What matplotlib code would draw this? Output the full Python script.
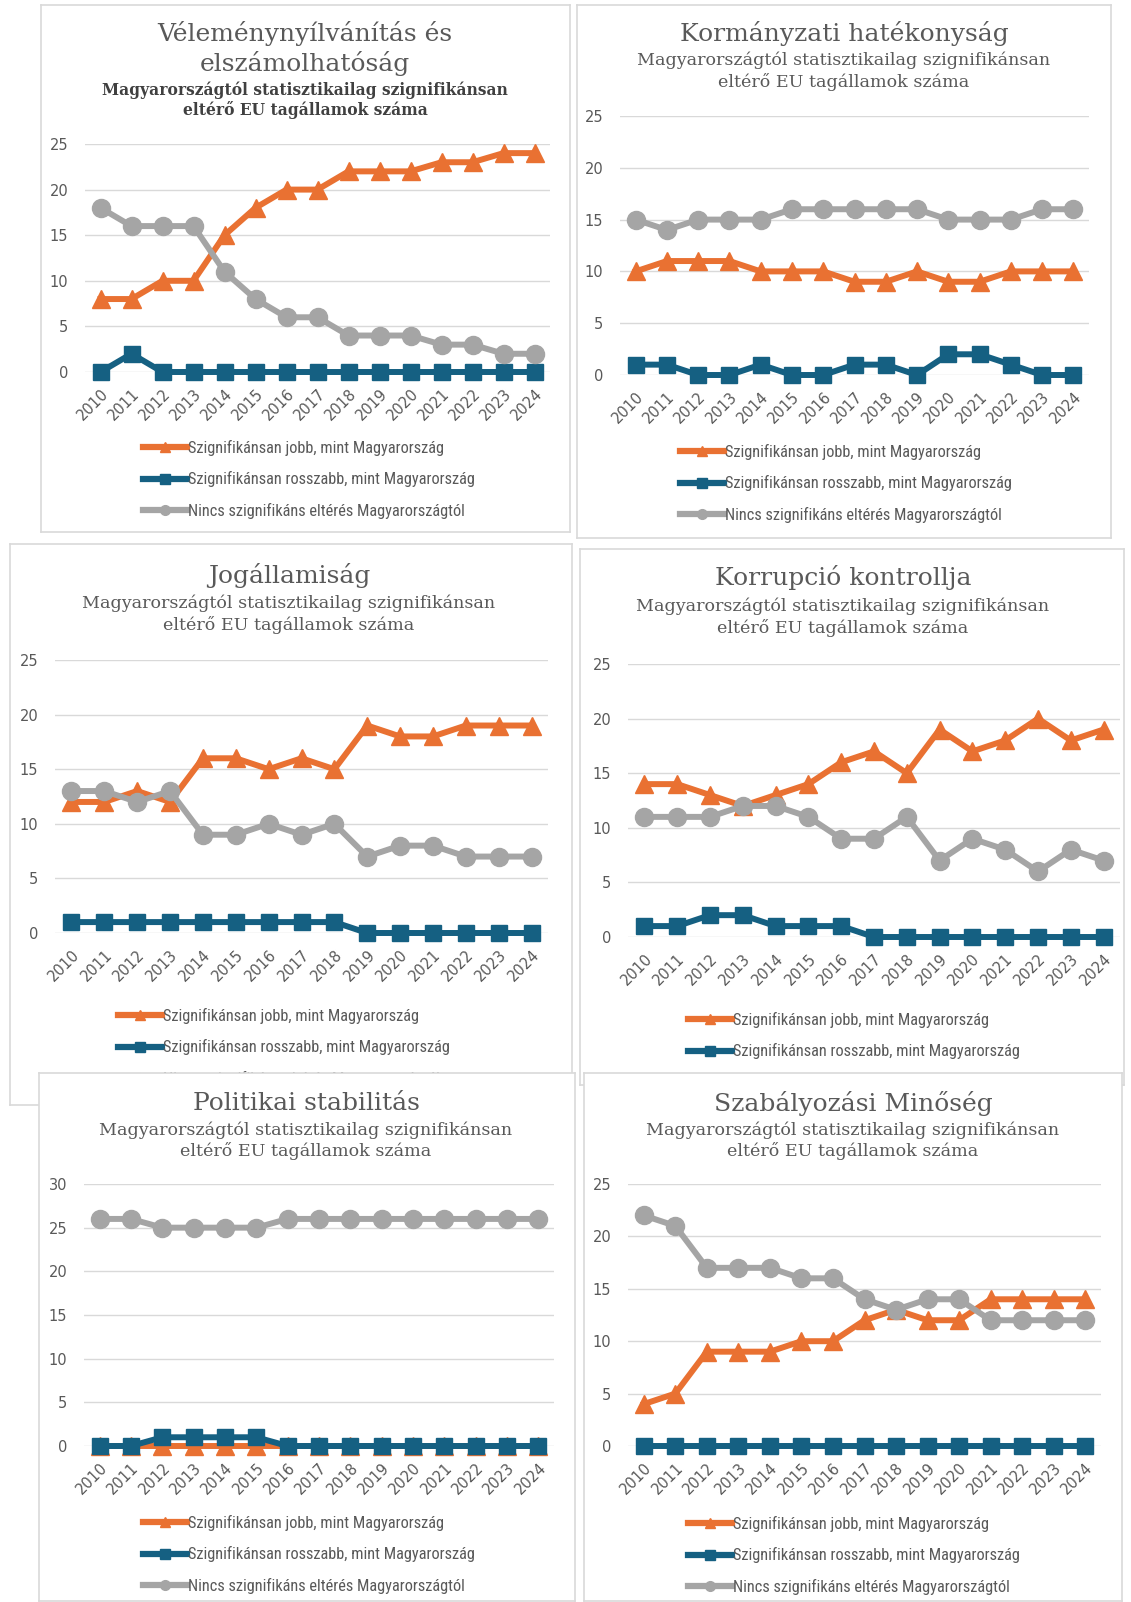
import matplotlib.pyplot as plt
from matplotlib.lines import Line2D

years = list(range(2010, 2025))

# Véleménynyílvánítás és elszámolhatóság
ve_jobb = [8, 8, 10, 10, 15, 18, 20, 20, 22, 22, 22, 23, 23, 24, 24]
ve_rossz = [0, 2, 0, 0, 0, 0, 0, 0, 0, 0, 0, 0, 0, 0, 0]
ve_nincs = [18, 16, 16, 16, 11, 8, 6, 6, 4, 4, 4, 3, 3, 2, 2]

# Kormányzati hatékonyság
ko_jobb = [10, 11, 11, 11, 10, 10, 10, 9, 9, 10, 9, 9, 10, 10, 10]
ko_rossz = [1, 1, 0, 0, 1, 0, 0, 1, 1, 0, 2, 2, 1, 0, 0]
ko_nincs = [15, 14, 15, 15, 15, 16, 16, 16, 16, 16, 15, 15, 15, 16, 16]

# Jogállamiság
jo_jobb = [12, 12, 13, 12, 16, 16, 15, 16, 15, 19, 18, 18, 19, 19, 19]
jo_rossz = [1, 1, 1, 1, 1, 1, 1, 1, 1, 0, 0, 0, 0, 0, 0]
jo_nincs = [13, 13, 12, 13, 9, 9, 10, 9, 10, 7, 8, 8, 7, 7, 7]

# Korrupció kontrollja
kk_jobb = [14, 14, 13, 12, 13, 14, 16, 17, 15, 19, 17, 18, 20, 18, 19]
kk_rossz = [1, 1, 2, 2, 1, 1, 1, 0, 0, 0, 0, 0, 0, 0, 0]
kk_nincs = [11, 11, 11, 12, 12, 11, 9, 9, 11, 7, 9, 8, 6, 8, 7]

# Politikai stabilitás
po_jobb = [0, 0, 0, 0, 0, 0, 0, 0, 0, 0, 0, 0, 0, 0, 0]
po_rossz = [0, 0, 1, 1, 1, 1, 0, 0, 0, 0, 0, 0, 0, 0, 0]
po_nincs = [26, 26, 25, 25, 25, 25, 26, 26, 26, 26, 26, 26, 26, 26, 26]

# Szabályozási Minőség
sz_jobb = [4, 5, 9, 9, 9, 10, 10, 12, 13, 12, 12, 14, 14, 14, 14]
sz_rossz = [0, 0, 0, 0, 0, 0, 0, 0, 0, 0, 0, 0, 0, 0, 0]
sz_nincs = [22, 21, 17, 17, 17, 16, 16, 14, 13, 14, 14, 12, 12, 12, 12]

titles = [
    ["Véleménynyílvánítás és", "elszámolhatóság"],
    ["Kormányzati hatékonyság"],
    ["Jogállamiság"],
    ["Korrupció kontrollja"],
    ["Politikai stabilitás"],
    ["Szabályozási Minőség"],
]
subtitle = ["Magyarországtól statisztikailag szignifikánsan",
            "eltérő EU tagállamok száma"]
labels = ["Szignifikánsan jobb, mint Magyarország",
          "Szignifikánsan rosszabb, mint Magyarország",
          "Nincs szignifikáns eltérés Magyarországtól"]
series = [
    (ve_jobb, ve_rossz, ve_nincs),
    (ko_jobb, ko_rossz, ko_nincs),
    (jo_jobb, jo_rossz, jo_nincs),
    (kk_jobb, kk_rossz, kk_nincs),
    (po_jobb, po_rossz, po_nincs),
    (sz_jobb, sz_rossz, sz_nincs),
]
ymaxes = [25, 25, 25, 25, 30, 25]

# layout in pixels (from top-left)
frames = [(41, 5, 570, 532), (577, 5, 1111, 538), (10, 544, 572, 1105),
          (580, 549, 1124, 1085), (39, 1073, 575, 1601), (584, 1073, 1122, 1601)]
plots = [(85, 144, 550, 372), (620, 116, 1089, 375), (55, 660, 548, 933),
         (628, 664, 1120, 937), (84, 1184, 554, 1446), (628, 1184, 1101, 1446)]
title_y = [[34, 63], [34], [575], [578], [1103], [1103]]
sub_y = [(90, 110), (60, 82), (603, 625), (606, 628), (1130, 1151), (1130, 1151)]
title_x = [305, 844, 289, 843, 306, 853]
legend_pos = [(143, 450), (680, 454), (118, 1018), (688, 1022), (143, 1525), (688, 1526)]

W, H = 1131, 1602
OR, BL, GR = "#E97132", "#156082", "#A5A5A5"
TXT = "#595959"
narrow = ["Roboto Condensed", "Liberation Sans Narrow", "Roboto", "DejaVu Sans"]
sans = ["DejaVu Sans"]

fig = plt.figure(figsize=(W / 100, H / 100), dpi=100)


def rect(x0, y0, x1, y1):
    return [x0 / W, 1 - y1 / H, (x1 - x0) / W, (y1 - y0) / H]


for i in range(6):
    bg = fig.add_axes(rect(*frames[i]), zorder=2 * i + 1)
    bg.set_xticks([])
    bg.set_yticks([])
    bg.set_facecolor("white")
    for sp in bg.spines.values():
        sp.set_color("#D9D9D9")
        sp.set_linewidth(1.2)

    for t, y in zip(titles[i], title_y[i]):
        bg.text(title_x[i] / W, 1 - y / H, t, transform=fig.transFigure,
                ha="center", va="center", family="DejaVu Serif", fontsize=18, color=TXT)
    for t, y in zip(subtitle, sub_y[i]):
        bg.text(title_x[i] / W, 1 - y / H, t, transform=fig.transFigure,
                ha="center", va="center", family="DejaVu Serif",
                fontsize=11.2 if i == 0 else 12.6,
                fontweight="bold" if i == 0 else "normal",
                color="#404040" if i == 0 else TXT)

    ax = fig.add_axes(rect(*plots[i]), zorder=2 * i + 2)
    ax.patch.set_alpha(0)
    jobb, rossz, nincs = series[i]
    x = range(len(years))
    ax.plot(x, jobb, color=OR, lw=4.3, marker="^", ms=13, clip_on=False, zorder=3)
    ax.plot(x, rossz, color=BL, lw=4.3, marker="s", ms=12, clip_on=False, zorder=4)
    ax.plot(x, nincs, color=GR, lw=4.3, marker="o", ms=13, clip_on=False, zorder=5)

    ax.set_xlim(-0.5, 14.5)
    ax.set_ylim(0, ymaxes[i])
    ax.set_yticks(range(0, ymaxes[i] + 1, 5))
    ax.set_xticks(list(x))
    ax.set_xticklabels([str(y) for y in years], rotation=45, ha="right",
                       rotation_mode="anchor")
    ax.grid(axis="y", color="#D9D9D9", lw=1)
    ax.set_axisbelow(True)
    for sp in ax.spines.values():
        sp.set_visible(False)
    ax.tick_params(length=0, labelcolor=TXT, labelsize=10.5)
    ax.tick_params(axis="y", pad=12)
    ax.tick_params(axis="x", pad=10)
    for lab in ax.get_xticklabels() + ax.get_yticklabels():
        lab.set_family(sans)

    handles = [Line2D([], [], color=OR, lw=4.5, marker="^", ms=7),
               Line2D([], [], color=BL, lw=4.5, marker="s", ms=7),
               Line2D([], [], color=GR, lw=4.5, marker="o", ms=7)]
    lx, ly = legend_pos[i]
    leg = ax.legend(handles, labels, loc="upper left",
                    bbox_to_anchor=(lx / W, 1 - (ly - 10) / H),
                    bbox_transform=fig.transFigure, frameon=False,
                    handlelength=2.7, handletextpad=0.05, labelspacing=0.93,
                    borderpad=0, borderaxespad=0,
                    prop={"family": narrow, "size": 11.8})
    for t in leg.get_texts():
        t.set_color(TXT)

fig.savefig("out.png", dpi=100, facecolor="white")
